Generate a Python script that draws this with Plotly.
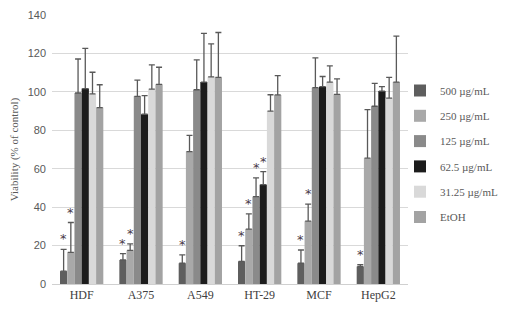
import plotly.graph_objects as go

categories = ["HDF", "A375", "A549", "HT-29", "MCF", "HepG2"]
series_names = ["500 µg/mL", "250 µg/mL", "125 µg/mL", "62.5 µg/mL", "31.25 µg/mL", "EtOH"]

v500 = [6.7, 12.5, 10.8, 11.8, 10.8, 9.1]
v250 = [16.5, 17.5, 68.9, 28.6, 32.7, 65.5]
v125 = [99.4, 97.7, 101.1, 45.5, 102.2, 92.5]
v62 = [101.7, 88.4, 105.1, 51.7, 102.7, 100.4]
v31 = [98.9, 101.4, 107.8, 90.0, 105.1, 96.7]
vEt = [91.8, 103.9, 107.5, 98.4, 98.7, 105.1]

e500 = [11.3, 3.3, 4.4, 8.1, 6.9, 1.0]
e250 = [15.5, 3.4, 8.4, 7.9, 8.9, 25.3]
e125 = [17.7, 8.4, 15.5, 9.7, 15.5, 11.9]
e62 = [20.9, 9.6, 25.3, 6.8, 5.3, 2.3]
e31 = [11.3, 12.6, 17.2, 8.5, 8.4, 10.8]
eEt = [11.9, 8.9, 23.4, 10.0, 8.1, 23.9]

colors = ["#5e5e5e", "#a9a9a9", "#8a8a8a", "#1c1c1c", "#d9d9d9", "#a3a3a3"]

# significance markers: (series index, category index)
sig = [(0, 0), (1, 0), (0, 1), (1, 1), (0, 2), (0, 3), (1, 3), (2, 3), (3, 3), (0, 4), (1, 4), (0, 5)]

values = [v500, v250, v125, v62, v31, vEt]
errors = [e500, e250, e125, e62, e31, eEt]

serif = "Palatino Linotype, Book Antiqua, Liberation Serif, DejaVu Serif, serif"

fig = go.Figure()
for i, name in enumerate(series_names):
    fig.add_trace(go.Bar(
        x=categories, y=values[i], name=name,
        marker=dict(color=colors[i], line=dict(width=0)),
        error_y=dict(type="data", array=errors[i], arrayminus=[0] * 6, symmetric=False,
                     color="#595959", thickness=1.3, width=3),
        legendgroup=str(i),
    ))

nser = len(series_names)
group_w = 1 - 0.27
bar_w = group_w / nser
annotations = []
for s, c in sig:
    top = values[s][c] + errors[s][c]
    xpos = c - group_w / 2 + bar_w * (s + 0.5)
    annotations.append(dict(
        x=xpos, y=top + 0.5, xref="x", yref="y", text="*", showarrow=False,
        yanchor="bottom", font=dict(size=13, color="#4a3a4a", family="DejaVu Sans"),
    ))

W, H = 512, 310
L, R, T, B = 44, 0, 7, 34
paper_w = W - L - R
paper_h = H - T - B
plot_right = 400

fig.update_layout(
    width=W, height=H,
    margin=dict(l=L, r=R, t=T, b=B, autoexpand=False),
    paper_bgcolor="white", plot_bgcolor="white",
    barmode="group", bargap=0.27, bargroupgap=0,
    showlegend=True,
    legend=dict(x=(392 - L) / paper_w, xanchor="left", y=1 - (68 - T) / paper_h, yanchor="top",
                font=dict(family=serif, size=11, color="#595959"),
                tracegroupgap=6.3, itemwidth=30, bgcolor="rgba(0,0,0,0)"),
    xaxis=dict(type="category", domain=[0, (plot_right - L) / paper_w], automargin=False,
               showgrid=False, showline=True, linecolor="#d0d0d0", linewidth=1,
               tickfont=dict(family=serif, size=12, color="#404040"), ticks=""),
    yaxis=dict(range=[0, 140], dtick=20, tick0=0, showgrid=True, gridcolor="#d9d9d9", gridwidth=1,
               zeroline=False, showline=False, automargin=False, ticklabelstandoff=5,
               ticklabeloverflow="allow",
               tickfont=dict(family="Liberation Sans, Arial, sans-serif", size=11, color="#595959"),
               title=dict(text="Viability (% of control)", standoff=6,
                          font=dict(family=serif, size=11, color="#595959"))),
    annotations=annotations,
)

fig.write_html("out.html")
